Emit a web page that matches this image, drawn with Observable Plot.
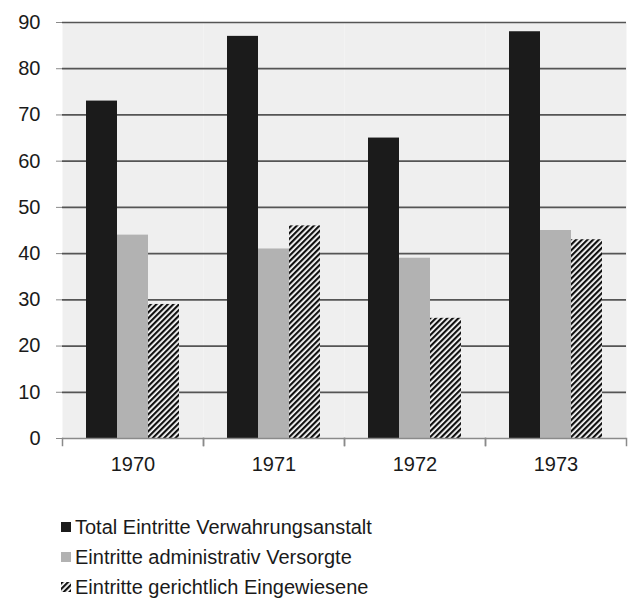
<!DOCTYPE html>
<html>
<head>
<meta charset="utf-8">
<script src="https://cdn.jsdelivr.net/npm/d3@7"></script>
<script src="https://cdn.jsdelivr.net/npm/@observablehq/plot@0.6"></script>
<style>
  html, body { margin: 0; padding: 0; background: #fff; }
  body { width: 631px; height: 599px; overflow: hidden; font-family: "Liberation Sans", Arial, sans-serif; }
  #chart svg { display: block; }
  .legend { margin-top: 32px; padding-left: 61px; font-size: 20px; color: #1a1a1a; }
  .legend .row { height: 30px; line-height: 30px; display: flex; align-items: center; }
  .legend .sw { width: 10px; height: 10px; margin-right: 4px; flex: none; display: block; }
</style>
</head>
<body>
<div id="chart"></div>
<div class="legend" id="legend"></div>
<script>
// ---- data ----
const years = ["1970", "1971", "1972", "1973"];
const series = [
  "Total Eintritte Verwahrungsanstalt",
  "Eintritte administrativ Versorgte",
  "Eintritte gerichtlich Eingewiesene"
];
const totalValues = [73, 87, 65, 88];
const adminValues = [44, 41, 39, 45];
const courtValues = [29, 46, 26, 43];
const yTicks = [0, 10, 20, 30, 40, 50, 60, 70, 80, 90];
const seriesColors = ["#1b1b1b", "#b2b2b2", "url(#hatch)"];

const valuesBySeries = [totalValues, adminValues, courtValues];
const data = years.flatMap((year, i) =>
  series.map((s, j) => ({year, series: s, value: valuesBySeries[j][i]}))
);

// ---- layout ----
const W = 631, H = 480, mTop = 22, mBottom = 42, mLeft = 61, mRight = 4;
const plotH = H - mTop - mBottom;
const axisGray = "#8a8a8a";

const chart = Plot.plot({
  width: W,
  height: H,
  marginTop: mTop,
  marginBottom: mBottom,
  marginLeft: mLeft,
  marginRight: mRight,
  style: {fontFamily: "'Liberation Sans', Arial, sans-serif", fontSize: "20px", background: "white", color: "#1a1a1a"},
  fx: {domain: years, padding: 0, label: null},
  x: {domain: series, paddingInner: 0, paddingOuter: 0.77, axis: null},
  y: {domain: [0, 90], label: null},
  color: {domain: series, range: seriesColors},
  marks: [
    Plot.frame({fill: "#efefef", stroke: "none"}),
    Plot.gridY(yTicks.filter(d => d > 0), {stroke: "#555555", strokeOpacity: 1, strokeWidth: 1.7}),
    Plot.barY(data, {fx: "year", x: "series", y: "value", fill: "series"}),
    Plot.ruleY([0], {stroke: axisGray, strokeWidth: 1.5}),
    Plot.axisY(yTicks, {tickSize: 6, tickPadding: 16, stroke: axisGray, fill: "#1a1a1a", fontSize: 20, line: true, label: null, tickFormat: d => String(d)}),
    Plot.frame({anchor: "left", stroke: axisGray, strokeWidth: 1.5, insetTop: plotH, insetBottom: -7}),
    Plot.frame({anchor: "right", stroke: axisGray, strokeWidth: 1.5, insetTop: plotH, insetBottom: -7}),
    Plot.axisFx({anchor: "bottom", tickSize: 0, tickPadding: 18, fontSize: 20, label: null, fill: "#1a1a1a"})
  ]
});

// hatch pattern definition
const ns = "http://www.w3.org/2000/svg";
function makePattern(id) {
  const defs = document.createElementNS(ns, "defs");
  const pat = document.createElementNS(ns, "pattern");
  pat.setAttribute("id", id);
  pat.setAttribute("patternUnits", "userSpaceOnUse");
  pat.setAttribute("width", "4");
  pat.setAttribute("height", "4");
  pat.setAttribute("patternTransform", "rotate(45)");
  const bg = document.createElementNS(ns, "rect");
  bg.setAttribute("width", "4"); bg.setAttribute("height", "4"); bg.setAttribute("fill", "#ffffff");
  const st = document.createElementNS(ns, "rect");
  st.setAttribute("width", "2.2"); st.setAttribute("height", "4"); st.setAttribute("fill", "#111111");
  pat.appendChild(bg); pat.appendChild(st);
  defs.appendChild(pat);
  return defs;
}
chart.insertBefore(makePattern("hatch"), chart.firstChild);
document.getElementById("chart").appendChild(chart);

// legend
const legend = document.getElementById("legend");
series.forEach((s, j) => {
  const row = document.createElement("div");
  row.className = "row";
  const sw = document.createElementNS(ns, "svg");
  sw.setAttribute("class", "sw");
  sw.setAttribute("width", "10"); sw.setAttribute("height", "10");
  let fill = seriesColors[j];
  if (fill.startsWith("url(")) {
    sw.appendChild(makePattern("hatchLegend"));
    fill = "url(#hatchLegend)";
  }
  const r = document.createElementNS(ns, "rect");
  r.setAttribute("width", "10"); r.setAttribute("height", "10"); r.setAttribute("fill", fill);
  sw.appendChild(r);
  const t = document.createElement("span");
  t.textContent = s;
  row.appendChild(sw); row.appendChild(t);
  legend.appendChild(row);
});
</script>
</body>
</html>
